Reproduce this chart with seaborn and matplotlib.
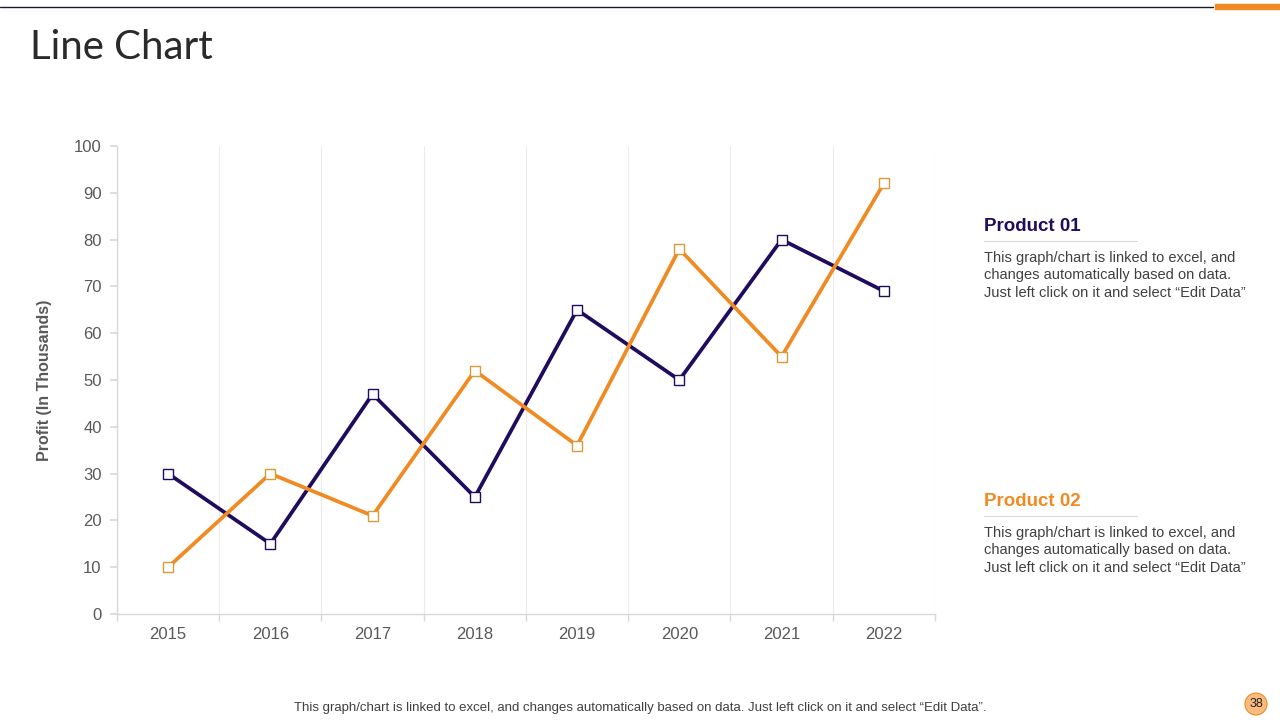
import matplotlib
matplotlib.use("Agg")
import matplotlib.pyplot as plt
from matplotlib.patches import Ellipse, Rectangle
from matplotlib.lines import Line2D
from matplotlib.ticker import FixedLocator
import seaborn as sns
import pandas as pd

# Chart data
years = ["2015", "2016", "2017", "2018", "2019", "2020", "2021", "2022"]
product_01 = [30, 15, 47, 25, 65, 50, 80, 69]
product_02 = [10, 30, 21, 52, 36, 78, 55, 92]
series_names = ["Product 01", "Product 02"]
y_ticks = [0, 10, 20, 30, 40, 50, 60, 70, 80, 90, 100]

NAVY = "#1f0c5e"
ORANGE = "#f08b23"
GREY_TXT = "#595959"

blurb = ("This graph/chart is linked to excel, and\n"
         "changes automatically based on data.\n"
         "Just left click on it and select \u201cEdit Data\u201d")
footer = ("This graph/chart is linked to excel, and changes automatically based on data. "
          "Just left click on it and select \u201cEdit Data\u201d.")

df = pd.DataFrame({
    "Year": years * 2,
    "Profit": product_01 + product_02,
    "Series": [series_names[0]] * len(years) + [series_names[1]] * len(years),
})

sns.set_theme(style="white")
plt.rcParams["font.family"] = ["Liberation Sans", "DejaVu Sans"]

fig = plt.figure(figsize=(12.8, 7.2), dpi=100)
ax = fig.add_axes([0.0914, 0.1472, 0.639, 0.65])

sns.lineplot(data=df, x="Year", y="Profit", hue="Series",
             palette={series_names[0]: NAVY, series_names[1]: ORANGE},
             linewidth=2.7, legend=False, ax=ax, sort=False)

# white square markers on top of the lines
edge_cols = [NAVY, "#d99a3a"]
for vals, ec in zip([product_01, product_02], edge_cols):
    ax.plot(years, vals, linestyle="none", marker="s", markersize=7.5,
            markerfacecolor="white", markeredgecolor=ec, markeredgewidth=1.0,
            zorder=5)

ax.set_xlim(-0.5, len(years) - 0.5)
ax.set_ylim(0, 100)
ax.set_yticks(y_ticks)
ax.set_xlabel("")
ax.set_ylabel("Profit (In Thousands)", fontsize=11.5, fontweight="bold",
              color=GREY_TXT, labelpad=16)

ax.xaxis.set_minor_locator(FixedLocator([i - 0.5 for i in range(len(years) + 1)]))
ax.tick_params(axis="x", which="major", length=0, pad=9, labelsize=12, labelcolor=GREY_TXT)
ax.tick_params(axis="x", which="minor", length=5, color="#d9d9d9", bottom=True)
ax.tick_params(axis="y", length=5, color="#d9d9d9", left=True, labelsize=12,
               labelcolor=GREY_TXT, pad=6)
ax.grid(False)
ax.grid(which="minor", axis="x", color="#ececec", linewidth=0.8)

sns.despine(ax=ax)
for side in ["left", "bottom"]:
    ax.spines[side].set_color("#d9d9d9")
    ax.spines[side].set_linewidth(1.0)

# slide decoration
fig.add_artist(Line2D([0, 0.948], [0.9905, 0.9905], color="#1a1a2e", linewidth=1.0,
                      transform=fig.transFigure))
fig.add_artist(Rectangle((0.949, 0.9875), 0.051, 0.0075, color=ORANGE,
                         transform=fig.transFigure))
fig.text(0.0234, 0.934, "Line Chart", fontsize=29, color="#2a2a2a",
         family=["Lato", "DejaVu Sans"], va="center")

# side legend blocks
for name, col, ytop in [(series_names[0], NAVY, 0.686), (series_names[1], ORANGE, 0.304)]:
    fig.text(0.769, ytop, name, fontsize=13.5, fontweight="bold", color=col, va="center")
    fig.add_artist(Line2D([0.769, 0.888], [ytop - 0.021, ytop - 0.021], color="#d9d9d9",
                          linewidth=0.8, transform=fig.transFigure))
    fig.text(0.769, ytop - 0.034, blurb, fontsize=10.5, color="#404040", va="top",
             linespacing=1.32)

fig.text(0.5, 0.016, footer, fontsize=9.5, color="#404040", ha="center", va="center")
fig.add_artist(Ellipse((1256 / 1280, 16 / 720), 22 / 1280, 22 / 720, transform=fig.transFigure,
                       facecolor="#f9bb7f", edgecolor=ORANGE, linewidth=0.8))
fig.text(1256 / 1280, 16 / 720, "38", fontsize=9, color="#222222", ha="center", va="center")

fig.savefig("out.png", dpi=100)
